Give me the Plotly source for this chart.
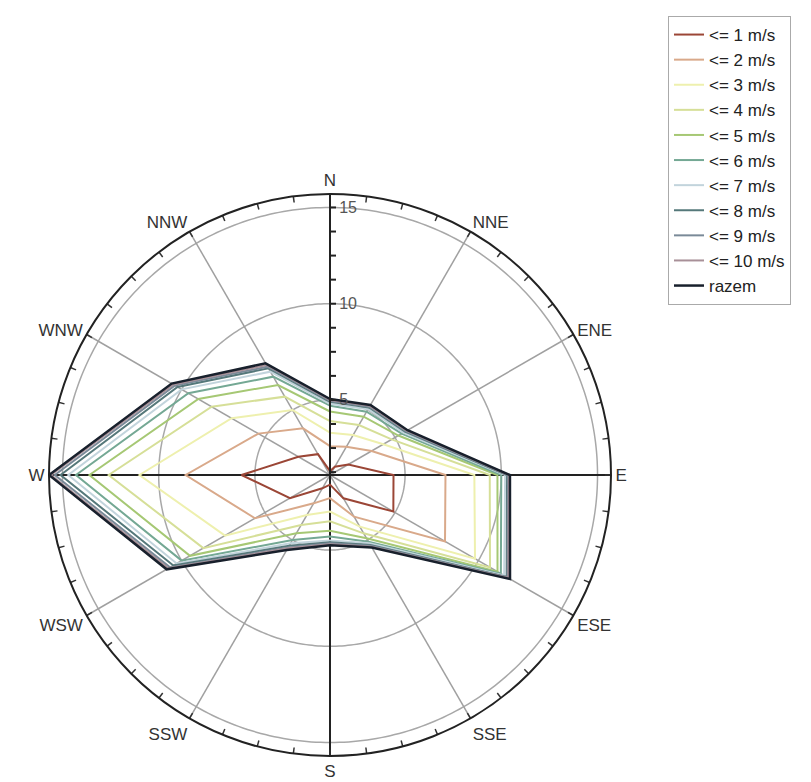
import numpy as np
import plotly.graph_objects as go

directions = ["N", "NNE", "ENE", "E", "ESE", "SSE", "S", "SSW", "WSW", "W", "WNW", "NNW"]
angles = [0, 30, 60, 90, 120, 150, 180, 210, 240, 270, 300, 330]

series_names = ["<= 1 m/s", "<= 2 m/s", "<= 3 m/s", "<= 4 m/s", "<= 5 m/s",
                "<= 6 m/s", "<= 7 m/s", "<= 8 m/s", "<= 9 m/s", "<= 10 m/s", "razem"]

v1 = [1.3, 1.6, 2.2, 4.4, 4.9, 2.5, 1.6, 1.9, 3.5, 5.7, 3.0, 2.35]
v2 = [2.6, 2.8, 3.6, 7.1, 8.0, 3.6, 2.3, 2.8, 5.6, 8.6, 5.4, 3.9]
v3 = [3.3, 3.5, 4.3, 8.6, 9.8, 4.2, 3.0, 3.5, 7.4, 11.0, 7.0, 5.0]
v4 = [3.9, 4.1, 4.8, 9.4, 10.7, 4.6, 3.5, 4.1, 8.7, 12.6, 8.2, 5.8]
v5 = [4.4, 4.6, 5.2, 9.8, 11.15, 4.9, 4.0, 4.6, 9.5, 13.6, 9.0, 6.5]
v6 = [4.7, 4.9, 5.4, 10.0, 11.35, 5.1, 4.3, 5.0, 10.0, 14.3, 9.6, 7.0]
v7 = [4.8, 5.05, 5.5, 10.2, 11.55, 5.2, 4.5, 5.2, 10.3, 14.7, 10.0, 7.3]
v8 = [4.9, 5.15, 5.6, 10.3, 11.7, 5.3, 4.6, 5.35, 10.5, 15.1, 10.25, 7.5]
v9 = [4.95, 5.2, 5.65, 10.35, 11.75, 5.35, 4.65, 5.45, 10.7, 15.4, 10.4, 7.6]
v10 = [5.0, 5.25, 5.7, 10.4, 11.8, 5.4, 4.7, 5.5, 10.8, 15.6, 10.5, 7.7]
razem = [5.05, 5.3, 5.75, 10.45, 11.9, 5.45, 4.75, 5.6, 10.9, 15.7, 10.6, 7.8]

series_values = [v1, v2, v3, v4, v5, v6, v7, v8, v9, v10, razem]
colors = ["#9b4636", "#d9a98a", "#eef0ae", "#d6df98", "#a6c874", "#74a894",
          "#c2d4dc", "#55787a", "#7a8a98", "#a89098", "#18202c"]
widths = [2, 2, 2, 2, 2, 2, 2, 2, 2, 2, 2.5]

r_min, r_max = 1.1, 15.7
ring_values = [5, 10, 15]
grid_font = dict(family="Arial, Liberation Sans, sans-serif", size=17, color="#333333")

fig = go.Figure()

# reference rings
circ = np.linspace(0, 360, 361)
for rv in ring_values:
    fig.add_trace(go.Scatterpolar(r=[rv] * len(circ), theta=circ, mode="lines",
                                  line=dict(color="#a8a8a8", width=1.5),
                                  showlegend=False, hoverinfo="skip"))
# spokes
for a in angles:
    if a % 90 == 0:
        continue
    fig.add_trace(go.Scatterpolar(r=[r_min, r_max], theta=[a, a], mode="lines",
                                  line=dict(color="#a0a0a0", width=1.5),
                                  showlegend=False, hoverinfo="skip"))
# main cross
for a in (0, 90):
    fig.add_trace(go.Scatterpolar(r=[r_max, r_min, r_max], theta=[a, a, a + 180], mode="lines",
                                  line=dict(color="#222222", width=2),
                                  showlegend=False, hoverinfo="skip"))

# inside tick marks on the rim every 7.5 degrees
ang_ticks = [7.5 * k for k in range(48)]
tick_r, tick_t = [], []
for t in ang_ticks:
    tick_r += [r_max, r_max - 0.32, None]
    tick_t += [t, t, None]
fig.add_trace(go.Scatterpolar(r=tick_r, theta=tick_t, mode="lines",
                              line=dict(color="#333333", width=1.5),
                              showlegend=False, hoverinfo="skip"))

for name, vals, col, w in zip(series_names, series_values, colors, widths):
    fig.add_trace(go.Scatterpolar(r=vals + vals[:1], theta=angles + angles[:1],
                                  mode="lines", name=name,
                                  line=dict(color=col, width=w)))

rad_ticks = [1.25 * k for k in range(1, 13)]
rad_text = [str(int(t)) if t in ring_values else "" for t in rad_ticks]

fig.update_layout(
    width=811, height=782,
    margin=dict(l=0, r=0, t=0, b=0),
    paper_bgcolor="white",
    plot_bgcolor="white",
    font=grid_font,
    polar=dict(
        domain=dict(x=[41 / 811, 603 / 811], y=[1 - 748 / 782, 1 - 186 / 782]),
        bgcolor="white",
        radialaxis=dict(range=[r_min, r_max], angle=90, side="clockwise",
                        tickvals=rad_ticks, ticktext=rad_text, ticks="outside",
                        ticklen=5, tickwidth=1.5, tickcolor="#222222",
                        showgrid=False, showline=True, linecolor="#222222", linewidth=2,
                        tickfont=dict(size=16, color="#555555"), tickangle=90),
        angularaxis=dict(rotation=90, direction="clockwise", tickmode="array",
                         tickvals=angles, ticktext=directions, ticks="",
                         showgrid=False, showline=True, linecolor="#222222", linewidth=2,
                         tickfont=dict(size=17, color="#333333")),
    ),
    legend=dict(x=660 / 811, y=1 - 8 / 782,
                xanchor="left", yanchor="top", bgcolor="white",
                bordercolor="#aaaaaa", borderwidth=1, itemwidth=30,
                font=dict(size=17, color="#222222")),
)

fig.write_html("out.html")
